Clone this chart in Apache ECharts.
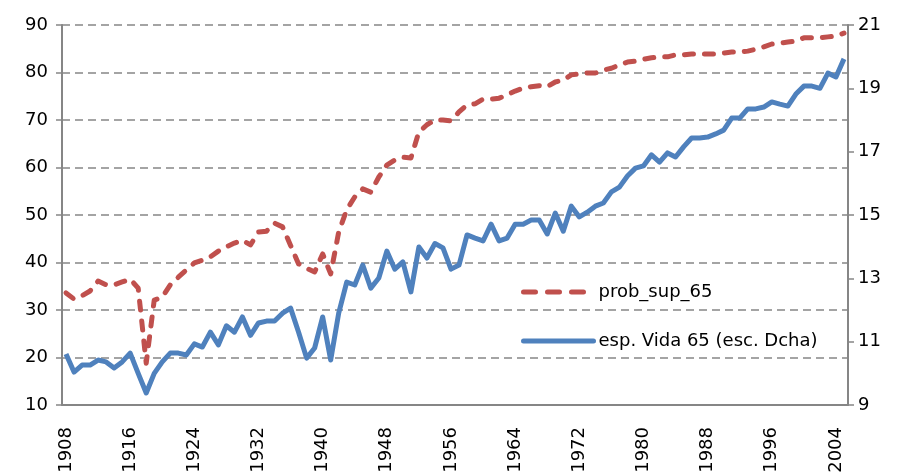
<!DOCTYPE html>
<html>
<head>
<meta charset="utf-8">
<script src="https://cdn.jsdelivr.net/npm/echarts@6/dist/echarts.min.js"></script>
<style>
  html, body { margin: 0; padding: 0; background: #fff; }
  #chart { width: 898px; height: 476px; }
</style>
</head>
<body>
<div id="chart"></div>
<script>
// años 1908 - 2005
var years = [];
for (var y = 1908; y <= 2005; y++) years.push(String(y));

// prob_sup_65 (eje izquierdo)
var probSup65 = [
  33.6, 32.3, 33.0, 34.0, 36.1, 35.3, 35.3, 35.9, 36.5, 34.6,
  18.8, 32.1, 32.7, 35.3, 36.9, 38.4, 39.9, 40.5, 41.2, 42.4,
  43.3, 44.1, 44.7, 43.7, 46.4, 46.6, 48.3, 47.5, 43.6, 39.7,
  38.8, 38.0, 41.8, 37.6, 46.4, 51.1, 53.8, 55.5, 54.8, 58.0,
  60.5, 61.6, 62.2, 62.0, 67.5, 69.0, 70.0, 70.0, 69.8, 71.7,
  73.2, 73.4, 74.4, 74.4, 74.6, 75.3, 76.1, 76.7, 77.0, 77.2,
  77.0, 78.0, 78.4, 79.5, 79.7, 79.9, 79.9, 80.5, 80.9, 81.6,
  82.2, 82.4, 82.8, 83.1, 83.3, 83.3, 83.7, 83.7, 83.9, 83.9,
  83.9, 83.9, 84.1, 84.3, 84.3, 84.5, 84.9, 85.4, 86.0, 86.2,
  86.4, 86.6, 87.3, 87.3, 87.3, 87.5, 87.7, 88.3
];

// esp. Vida 65 (eje derecho)
var espVida65 = [
  10.61, 10.04, 10.26, 10.26, 10.42, 10.36, 10.17, 10.36, 10.64, 10.00,
  9.38, 10.00, 10.36, 10.64, 10.64, 10.58, 10.93, 10.83, 11.30, 10.90,
  11.50, 11.30, 11.78, 11.20, 11.59, 11.65, 11.65, 11.90, 12.06, 11.30,
  10.48, 10.80, 11.78, 10.42, 11.90, 12.88, 12.79, 13.42, 12.69, 13.01,
  13.86, 13.29, 13.52, 12.57, 13.99, 13.64, 14.10, 13.96, 13.29, 13.42,
  14.37, 14.27, 14.18, 14.71, 14.18, 14.27, 14.71, 14.71, 14.84, 14.84,
  14.40, 15.06, 14.49, 15.28, 14.94, 15.09, 15.28, 15.38, 15.73, 15.88,
  16.23, 16.48, 16.55, 16.90, 16.67, 16.96, 16.83, 17.15, 17.43, 17.43,
  17.46, 17.56, 17.68, 18.06, 18.06, 18.35, 18.35, 18.41, 18.57, 18.50,
  18.44, 18.82, 19.07, 19.07, 19.00, 19.48, 19.36, 19.93
];

var axisColor = '#868686';
var font = '"DejaVu Sans", "Noto Sans", sans-serif';
var redDash = [9, 11];

var myChart = echarts.init(document.getElementById('chart'));
var option = {
  animation: false,
  textStyle: { fontFamily: font },
  grid: { left: 62, right: 50, top: 25, bottom: 71 },
  legend: {
    orient: 'vertical',
    left: 516,
    top: 278,
    itemWidth: 70,
    itemHeight: 14,
    itemGap: 31,
    itemStyle: { opacity: 0 },
    lineStyle: { width: 5, cap: 'round' },
    textStyle: { fontSize: 18, color: '#000', fontFamily: font },
    data: [
      { name: 'prob_sup_65', lineStyle: { type: [12, 12], cap: 'round', width: 5 } },
      { name: 'esp. Vida 65 (esc. Dcha)' }
    ]
  },
  xAxis: {
    type: 'category',
    data: years,
    boundaryGap: true,
    axisLine: { lineStyle: { color: axisColor, width: 2 } },
    axisTick: { interval: 0, length: 7, lineStyle: { color: axisColor, width: 1.5 } },
    axisLabel: {
      interval: 7,
      rotate: 90,
      margin: 22,
      fontSize: 18,
      color: '#000',
      fontFamily: font
    }
  },
  yAxis: [{
    type: 'value',
    min: 10,
    max: 90,
    interval: 10,
    axisLine: { show: true, lineStyle: { color: axisColor, width: 2 } },
    axisTick: { show: true, length: 6, lineStyle: { color: axisColor, width: 1.5 } },
    axisLabel: { fontSize: 18, color: '#000', margin: 14, fontFamily: font },
    splitLine: { lineStyle: { color: axisColor, width: 1.5, type: [8, 5] } }
  }, {
    type: 'value',
    min: 9,
    max: 21,
    interval: 2,
    axisLine: { show: true, lineStyle: { color: axisColor, width: 2 } },
    axisTick: { show: true, length: 6, lineStyle: { color: axisColor, width: 1.5 } },
    axisLabel: { fontSize: 18, color: '#000', margin: 10, fontFamily: font },
    splitLine: { show: false }
  }],
  series: [{
    name: 'prob_sup_65',
    type: 'line',
    yAxisIndex: 0,
    data: probSup65,
    symbol: 'none',
    itemStyle: { color: '#C0504D' },
    lineStyle: { color: '#C0504D', width: 5, type: redDash, cap: 'round', join: 'round' }
  }, {
    name: 'esp. Vida 65 (esc. Dcha)',
    type: 'line',
    yAxisIndex: 1,
    data: espVida65,
    symbol: 'none',
    itemStyle: { color: '#4F81BD' },
    lineStyle: { color: '#4F81BD', width: 5, join: 'round' }
  }]
};
myChart.setOption(option);
</script>
</body>
</html>
